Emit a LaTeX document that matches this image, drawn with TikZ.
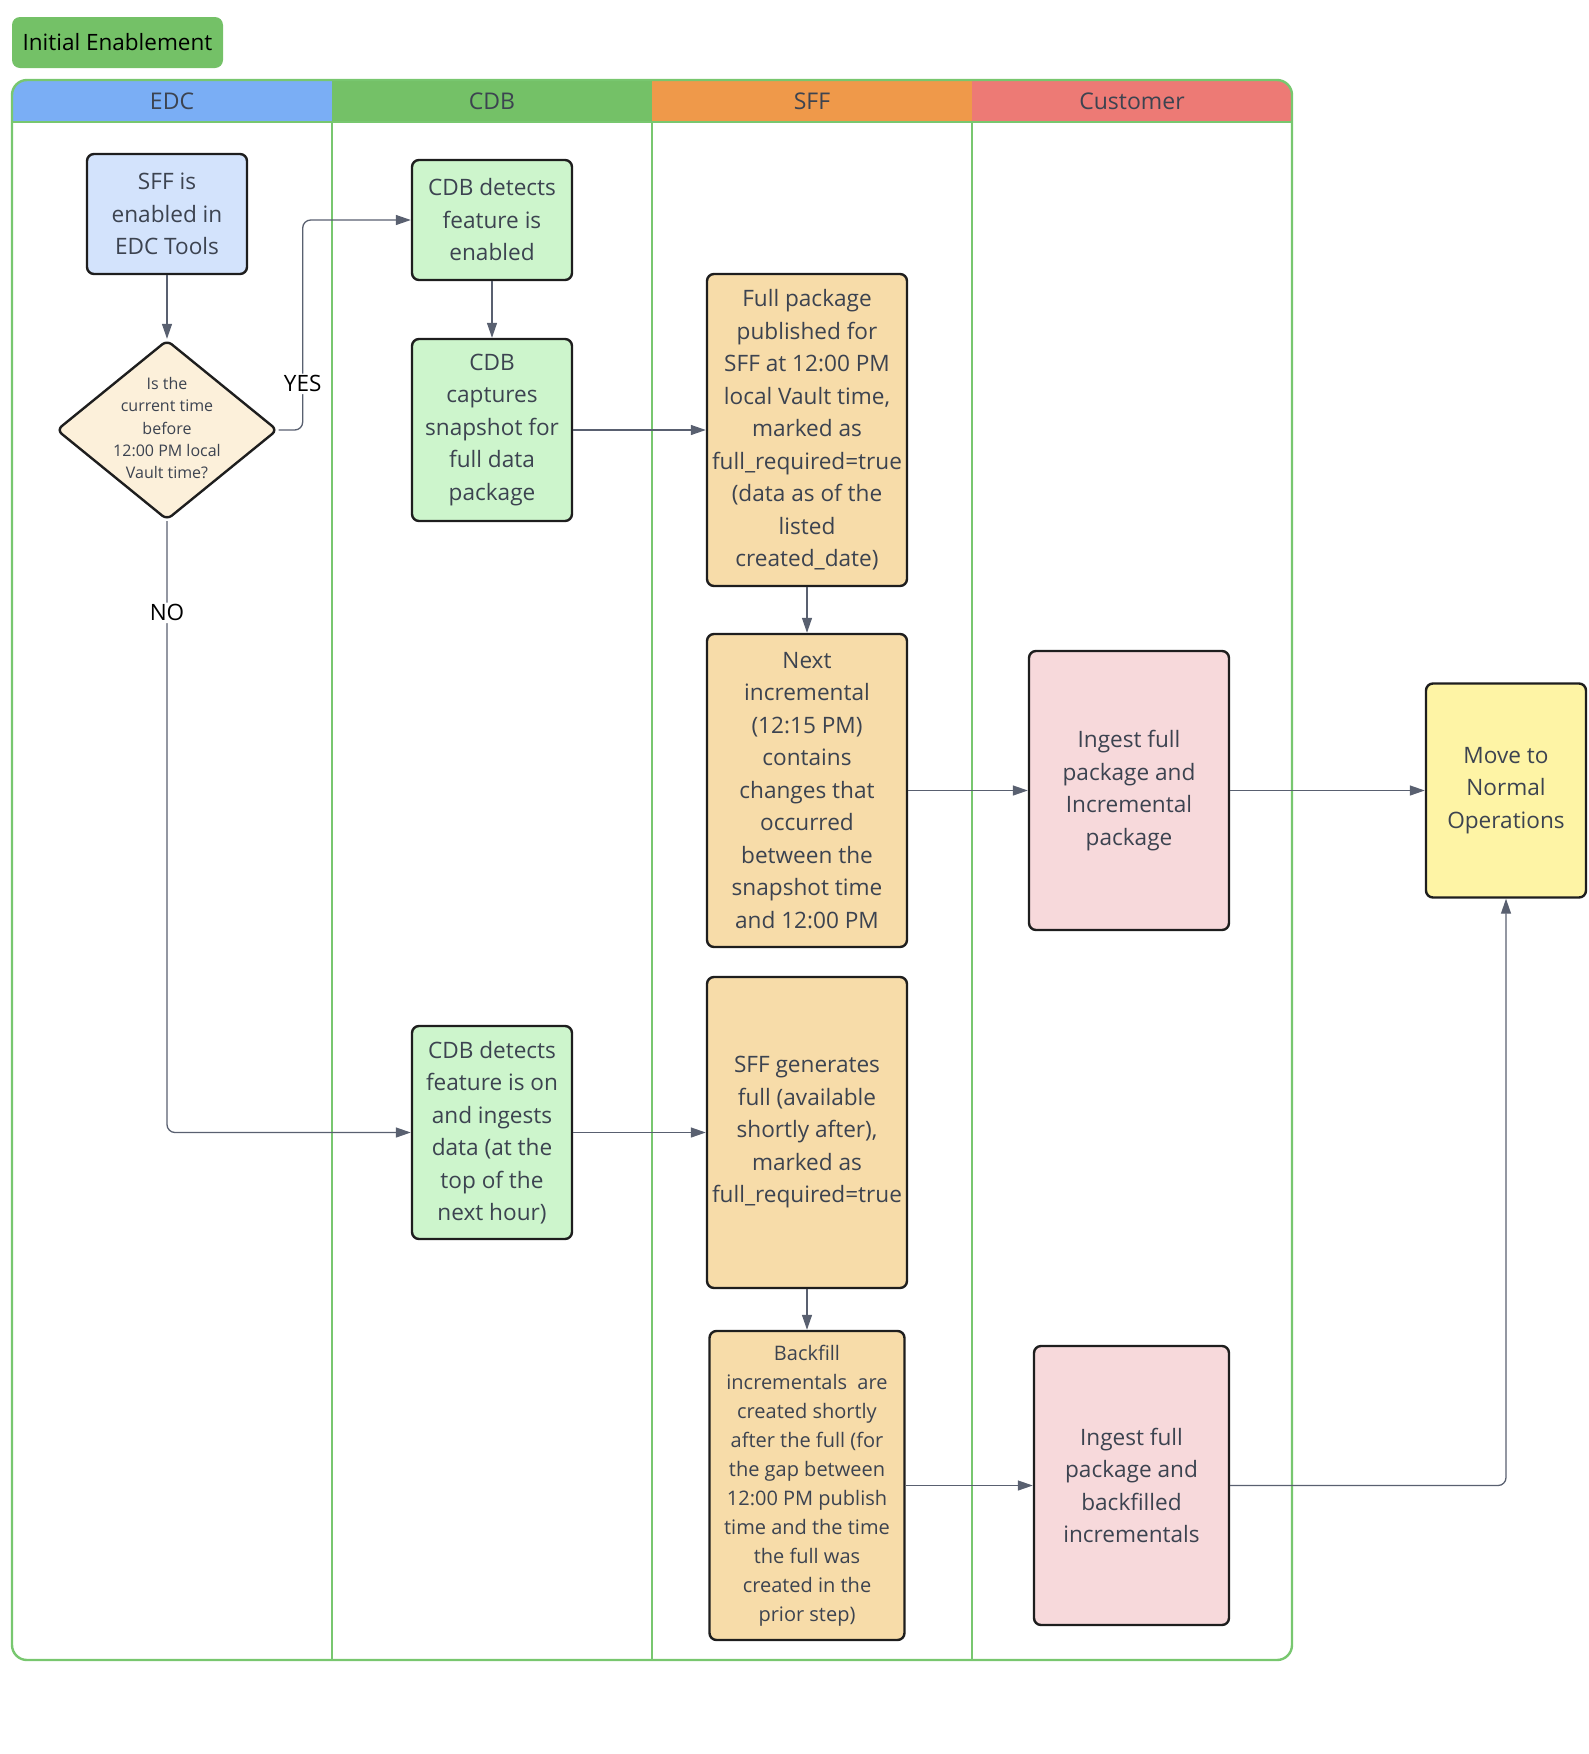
\documentclass[tikz,border=0pt]{standalone}
\usepackage{fontspec}
\setmainfont{Open Sans}
\usetikzlibrary{shapes.geometric,arrows.meta}
\definecolor{txtgray}{HTML}{3C4350}
\definecolor{linegray}{HTML}{596070}
\definecolor{boxline}{HTML}{1E1E1E}
\definecolor{poolgreen}{HTML}{78C76F}
\definecolor{edcblue}{HTML}{7AAEF5}
\definecolor{cdbgreen}{HTML}{74C167}
\definecolor{sfforange}{HTML}{EF994A}
\definecolor{custred}{HTML}{ED7A75}
\definecolor{edcfill}{HTML}{D3E3FC}
\definecolor{askfill}{HTML}{FCF0DA}
\definecolor{cdbfill}{HTML}{CDF5CC}
\definecolor{sfffill}{HTML}{F7DCA9}
\definecolor{custfill}{HTML}{F7D9DB}
\definecolor{movefill}{HTML}{FEF4A5}

\begin{document}
\begin{tikzpicture}[x=1pt,y=-1pt,
    box/.style={draw=boxline, line width=2.4pt, rounded corners=7pt, align=center,
      text=txtgray, inner sep=2pt, font=\fontsize{22.6}{32.5}\selectfont},
    ask/.style={diamond, draw=boxline, line width=2.4pt, rounded corners=6pt, fill=askfill,
      inner sep=0pt, minimum width=221pt, minimum height=180pt, text=txtgray,
      font=\fontsize{16}{22.4}\selectfont},
    lanehead/.style={minimum width=320pt, minimum height=42pt, inner sep=0pt,
      text=txtgray, font=\fontsize{23}{26}\selectfont},
    flow/.style={draw=linegray, line width=1.3pt, rounded corners=8pt,
      -{Triangle[length=15pt,width=10pt]}},
    yesno/.style={fill=white, text=black, inner sep=2pt, font=\fontsize{22.5}{26}\selectfont}]
    \useasboundingbox (0,0) rectangle (1588,1754);

    \node[fill=cdbgreen, rounded corners=8pt, minimum width=211pt, minimum height=51pt,
      inner sep=0pt, font=\fontsize{22.5}{26}\selectfont] (title) at (117.5,42.5) {Initial Enablement};

    \begin{scope}
        \clip[rounded corners=15pt] (12,80) rectangle (1292,1660);
        \node[lanehead, fill=edcblue] (hEDC) at (172,101.5) {EDC};
        \node[lanehead, fill=cdbgreen] (hCDB) at (492,101.5) {CDB};
        \node[lanehead, fill=sfforange] (hSFF) at (812,101.5) {SFF};
        \node[lanehead, fill=custred] (hCust) at (1132,101.5) {Customer};
    \end{scope}
    \foreach \x in {332,652,972}
        \draw[poolgreen, line width=2.4pt] (\x,122) -- (\x,1660);
    \draw[poolgreen, line width=2.4pt] (12,122) -- (1292,122);
    \draw[poolgreen, line width=2.4pt, rounded corners=15pt] (12,80) rectangle (1292,1660);

    \node[box, fill=edcfill, minimum width=160pt, minimum height=120pt] (edcOn) at (167,214)
        {SFF is\\enabled in\\EDC Tools};
    \node[ask] (ask) at (167,430) {\raisebox{-4pt}[0pt][0pt]{\makebox[0pt]{\begin{tabular}{@{}c@{}}Is the\\current time\\before\\12:00 PM local\\Vault time?\end{tabular}}}};

    \node[box, fill=cdbfill, minimum width=160pt, minimum height=120pt] (cdbOn) at (492,220)
        {CDB detects\\feature is\\enabled};
    \node[box, fill=cdbfill, minimum width=160pt, minimum height=182pt] (cdbSnap) at (492,430)
        {CDB\\captures\\snapshot for\\full data\\package};
    \node[box, fill=cdbfill, minimum width=160pt, minimum height=213pt] (cdbIng) at (492,1132.5)
        {CDB detects\\feature is on\\and ingests\\data (at the\\top of the\\next hour)};

    \node[box, fill=sfffill, minimum width=200pt, minimum height=312pt] (fullPkg) at (807,430)
        {Full package\\published for\\SFF at 12:00 PM\\local Vault time,\\marked as\\full\_required=true\\(data as of the\\listed\\created\_date)};
    \node[box, fill=sfffill, minimum width=200pt, minimum height=313pt] (nextInc) at (807,790.5)
        {Next\\incremental\\(12:15 PM)\\contains\\changes that\\occurred\\between the\\snapshot time\\and 12:00 PM};
    \node[box, fill=sfffill, minimum width=200pt, minimum height=311pt] (sffGen) at (807,1132.5)
        {SFF generates\\full (available\\shortly after),\\marked as\\full\_required=true};
    \node[box, fill=sfffill, minimum width=195pt, minimum height=309pt,
      font=\fontsize{20}{29}\selectfont] (backfill) at (807,1485.5)
        {Backfill\\incrementals~ are\\created shortly\\after the full (for\\the gap between\\12:00 PM publish\\time and the time\\the full was\\created in the\\prior step)};

    \node[box, fill=custfill, minimum width=200pt, minimum height=279pt] (ingestInc) at (1129,790.5)
        {Ingest full\\package and\\Incremental\\package};
    \node[box, fill=custfill, minimum width=195pt, minimum height=279pt] (ingestBack) at (1131.5,1485.5)
        {Ingest full\\package and\\backfilled\\incrementals};

    \node[box, fill=movefill, minimum width=160pt, minimum height=214pt] (normalOps) at (1506,790.5)
        {Move to\\Normal\\Operations};

    \draw[flow] (edcOn) -- (ask);
    \draw[flow] (ask.east) -- ++(24,0) |- node[yesno, pos=0.11] {YES} (cdbOn.west);
    \draw[flow] (ask.south) |- node[yesno, pos=0.075] {NO} (cdbIng.west);
    \draw[flow] (cdbOn) -- (cdbSnap);
    \draw[flow] (cdbSnap) -- (fullPkg);
    \draw[flow] (fullPkg) -- (nextInc);
    \draw[flow] (nextInc) -- (ingestInc);
    \draw[flow] (ingestInc) -- (normalOps);
    \draw[flow] (cdbIng) -- (sffGen);
    \draw[flow] (sffGen) -- (backfill);
    \draw[flow] (backfill) -- (ingestBack);
    \draw[flow] (ingestBack.east) -| (normalOps.south);
\end{tikzpicture}
\end{document}
